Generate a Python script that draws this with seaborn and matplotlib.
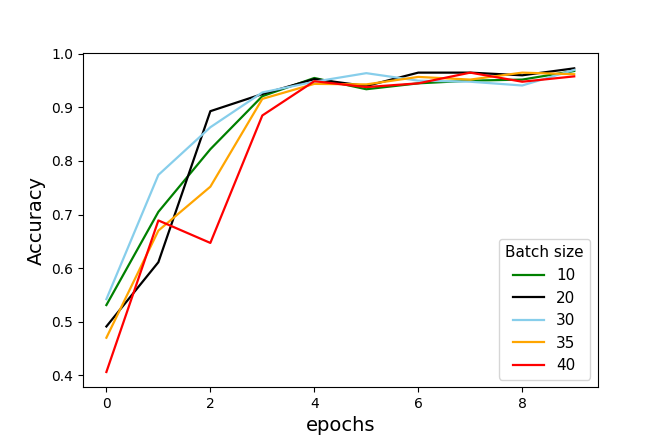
import numpy as np
import pandas as pd
import seaborn as sns
import matplotlib
matplotlib.use("Agg")
import matplotlib.pyplot as plt

epochs = list(range(10))
batch_sizes = ["10", "20", "30", "35", "40"]
acc_10 = [0.531, 0.705, 0.822, 0.921, 0.955, 0.934, 0.945, 0.950, 0.952, 0.968]
acc_20 = [0.491, 0.611, 0.893, 0.925, 0.953, 0.940, 0.965, 0.965, 0.960, 0.973]
acc_30 = [0.542, 0.774, 0.863, 0.928, 0.948, 0.964, 0.950, 0.948, 0.941, 0.970]
acc_35 = [0.470, 0.670, 0.752, 0.916, 0.944, 0.943, 0.957, 0.952, 0.965, 0.962]
acc_40 = [0.406, 0.689, 0.647, 0.885, 0.949, 0.938, 0.945, 0.965, 0.948, 0.958]
colors = ["green", "black", "skyblue", "orange", "red"]

series = [acc_10, acc_20, acc_30, acc_35, acc_40]
df = pd.DataFrame(
    [(e, bs, a) for bs, vals in zip(batch_sizes, series) for e, a in zip(epochs, vals)],
    columns=["epoch", "Batch size", "accuracy"],
)

fig, ax = plt.subplots(figsize=(6.64, 4.43), dpi=100)
sns.lineplot(
    data=df,
    x="epoch",
    y="accuracy",
    hue="Batch size",
    hue_order=batch_sizes,
    palette=dict(zip(batch_sizes, colors)),
    linewidth=1.6,
    ax=ax,
)

ax.set_xlabel("epochs", fontsize=14)
ax.set_ylabel("Accuracy", fontsize=14)
ax.set_xticks([0, 2, 4, 6, 8])
ax.legend(title="Batch size", loc="lower right", fontsize=11, title_fontsize=11)

plt.subplots_adjust(left=0.125, right=0.9, top=0.88, bottom=0.126)
plt.savefig("out.png", dpi=100)
